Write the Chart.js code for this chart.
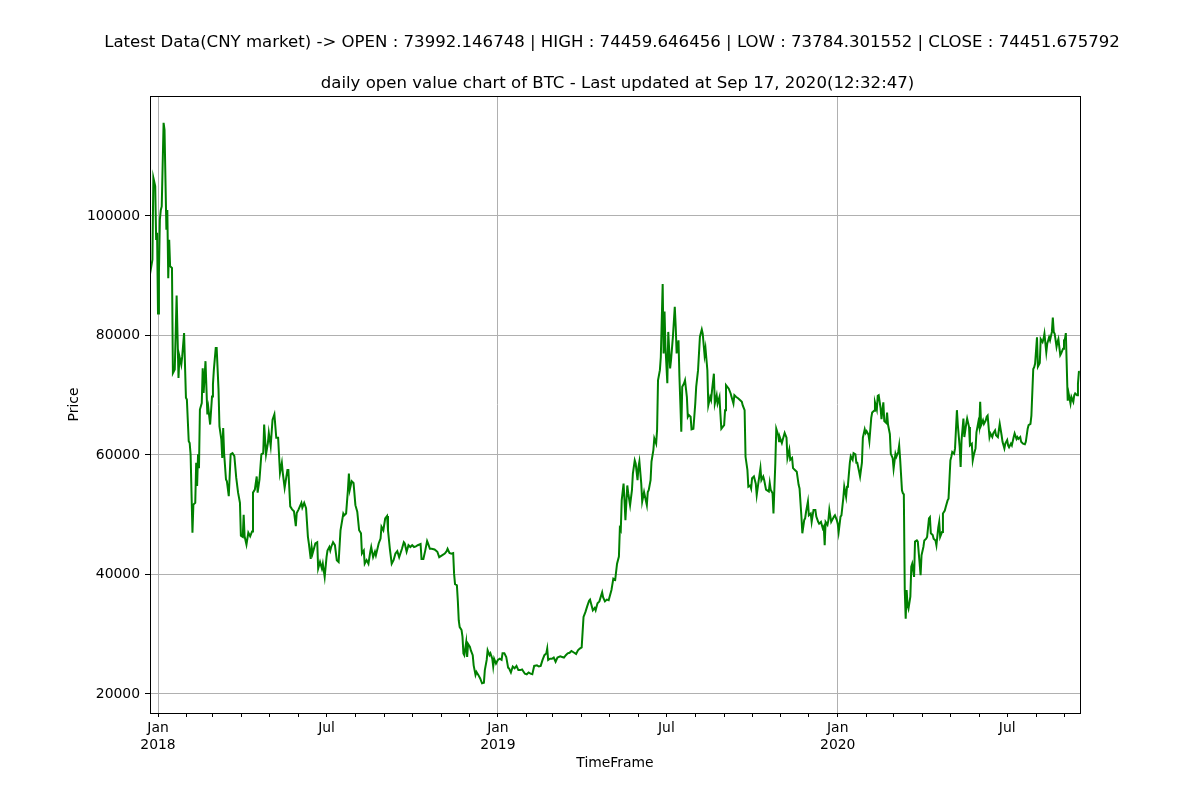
<!DOCTYPE html>
<html>
<head>
<meta charset="utf-8">
<title>daily open value chart of BTC</title>
<script src="https://cdn.jsdelivr.net/npm/chart.js@4.4.0/dist/chart.umd.min.js"></script>
<style>
  body { margin: 0; background: #fff; }
  canvas { display: block; }
</style>
</head>
<body>
<canvas id="btcChart" width="1200" height="800"></canvas>
<script>
// days counted from 1 Jan 2018
const openDays = [
  -9, -6, -5, -3, -2, -1, 0, 1, 2, 3,
  4, 6, 7, 9, 10, 11, 12, 13, 15, 16,
  18, 20, 22, 23, 25, 26, 28, 30, 31, 33,
  34, 35, 37, 38, 40, 41, 42, 43, 44, 45,
  47, 48, 49, 51, 53, 54, 56, 58, 59, 60,
  62, 63, 65, 66, 68, 69, 70, 71, 73, 74,
  76, 78, 80, 82, 84, 86, 88, 89, 91, 92,
  93, 95, 97, 99, 101, 102, 104, 106, 107, 109,
  111, 113, 114, 116, 118, 119, 121, 123, 125, 127,
  129, 131, 133, 134, 136, 139, 140, 142, 144, 146,
  148, 149, 151, 154, 155, 157, 159, 161, 162, 164,
  165, 166, 169, 171, 172, 174, 176, 177, 179, 181,
  182, 184, 185, 186, 188, 190, 192, 194, 196, 199,
  200, 202, 204, 205, 206, 208, 210, 212, 214, 216,
  218, 219, 221, 222, 224, 226, 228, 229, 231, 233,
  234, 237, 239, 240, 242, 244, 246, 247, 249, 251,
  253, 255, 257, 259, 262, 264, 265, 267, 269, 271,
  273, 275, 277, 279, 282, 283, 285, 287, 289, 290,
  292, 294, 297, 300, 302, 305, 308, 310, 311, 313,
  315, 317, 318, 319, 321, 322, 323, 324, 326, 327,
  328, 329, 331, 332, 333, 335, 336, 338, 339, 341,
  342, 344, 346, 348, 350, 351, 353, 354, 356, 357,
  359, 360, 361, 363, 365, 367, 369, 370, 372, 374,
  376, 377, 379, 381, 383, 385, 387, 389, 391, 394,
  396, 398, 400, 402, 404, 407, 409, 411, 413, 415,
  417, 418, 419, 421, 423, 425, 427, 429, 432, 434,
  436, 438, 440, 442, 444, 447, 449, 451, 453, 455,
  457, 459, 461, 463, 464, 466, 467, 469, 470, 472,
  474, 477, 478, 480, 482, 484, 487, 489, 491, 493,
  495, 496, 497, 498, 500, 501, 502, 504, 505, 507,
  509, 510, 512, 513, 515, 516, 517, 519, 520, 522,
  525, 526, 527, 529, 530, 532, 533, 535, 536, 537,
  539, 540, 542, 543, 544, 545, 547, 548, 550, 551,
  553, 555, 556, 557, 559, 560, 561, 562, 563, 565,
  566, 568, 569, 570, 572, 573, 575, 577, 578, 580,
  582, 584, 585, 587, 588, 590, 591, 593, 594, 595,
  597, 598, 600, 601, 603, 604, 605, 608, 609, 610,
  613, 615, 616, 618, 619, 621, 623, 625, 627, 628,
  630, 631, 633, 634, 636, 637, 638, 640, 642, 643,
  645, 647, 648, 650, 651, 653, 656, 657, 658, 660,
  661, 663, 664, 666, 667, 668, 670, 671, 673, 675,
  676, 678, 679, 681, 682, 684, 686, 688, 689, 691,
  692, 694, 695, 696, 698, 699, 701, 702, 704, 706,
  707, 709, 710, 712, 714, 715, 716, 717, 719, 720,
  721, 723, 724, 726, 727, 729, 730, 731, 733, 734,
  736, 737, 739, 740, 741, 743, 744, 746, 747, 749,
  750, 751, 753, 754, 756, 757, 759, 760, 761, 763,
  764, 766, 767, 769, 770, 772, 773, 774, 776, 777,
  779, 780, 782, 783, 784, 786, 787, 789, 790, 792,
  793, 795, 796, 797, 799, 800, 801, 802, 803, 804,
  805, 806, 808, 809, 810, 812, 813, 815, 816, 818,
  819, 820, 822, 823, 825, 826, 828, 829, 830, 832,
  833, 835, 836, 838, 839, 840, 842, 843, 845, 846,
  848, 849, 851, 852, 853, 855, 856, 858, 859, 861,
  862, 863, 865, 866, 868, 869, 871, 872, 874, 875,
  876, 878, 879, 881, 882, 883, 884, 886, 887, 889,
  890, 891, 893, 894, 896, 897, 899, 900, 902, 903,
  904, 906, 907, 909, 910, 912, 913, 914, 916, 917,
  919, 920, 922, 923, 924, 926, 927, 929, 931, 932,
  934, 935, 937, 938, 940, 941, 942, 944, 945, 947,
  948, 950, 951, 952, 954, 955, 957, 958, 960, 961,
  962, 963, 965, 966, 967, 969, 970, 972, 973, 974,
  975, 977, 978, 980, 981, 983, 984, 985, 987, 988,
  989, 990
];

const openPrices = [
  89900, 92700, 106400, 105000, 96000, 97200, 83700, 90500, 99400, 101000,
  101600, 115600, 114400, 97700, 101000, 89600, 96000, 91600, 91300, 73700,
  74300, 86700, 72900, 76500, 75100, 76500, 80400, 69600, 69300, 62300,
  62000, 60100, 47000, 51700, 52000, 58700, 54800, 60100, 57800, 67600,
  68700, 74500, 70400, 75700, 66800, 67900, 65100, 69800, 71800, 74300,
  77900, 77900, 70900, 64800, 62600, 59500, 64500, 60300, 55900, 55600,
  53100, 60100, 60300, 59800, 56200, 53700, 52000, 46500, 46300, 50000,
  46400, 45000, 47000, 46400, 47200, 53700, 54200, 56400, 53700, 55900,
  60100, 60300, 65100, 60100, 62000, 63700, 61500, 65900, 66800, 62900,
  62900, 57000, 58700, 57000, 54500, 57500, 57500, 51400, 50900, 50600,
  48100, 50300, 50900, 52000, 51200, 52000, 51100, 46300, 45200, 42600,
  44600, 43500, 45200, 45400, 41000, 42100, 41000, 41800, 39600, 42900,
  44000, 44600, 44000, 44600, 45400, 44900, 42400, 42100, 47400, 50200,
  49900, 50200, 54200, 56900, 54200, 55600, 55300, 51600, 50500, 47400,
  46900, 43500, 44000, 41800, 42400, 41800, 43800, 44600, 42900, 43800,
  43200, 45200, 46000, 48000, 47400, 49400, 49800, 47400, 44300, 41800,
  42400, 43500, 43900, 42900, 44300, 45400, 45200, 43800, 44900, 44600,
  44900, 44600, 44700, 44900, 45100, 42600, 42600, 44000, 45600, 45200,
  44300, 44300, 44200, 43800, 42900, 43200, 43500, 43900, 44300, 43600,
  43500, 43600, 40100, 38400, 38200, 35600, 32300, 31200, 30700, 29600,
  26800, 26500, 28700, 26200, 28400, 27900, 27300, 26500, 24800, 23200,
  23700, 23200, 22600, 21800, 21900, 24000, 25700, 27300, 26500, 26800,
  25900, 24600, 25900, 25100, 25700, 25900, 25700, 26800, 26800, 26200,
  24400, 24300, 23600, 24600, 24300, 24700, 24000, 24000, 24100, 23400,
  23300, 23600, 23400, 23300, 24700, 24800, 24600, 24700, 25700, 26500,
  26800, 27600, 25700, 25900, 25900, 26100, 25400, 26100, 26300, 26200,
  26100, 26500, 26800, 26900, 27200, 26900, 26700, 27300, 27600, 27800,
  32900, 33700, 34700, 35600, 35800, 34600, 34000, 34400, 34000, 35200,
  35500, 37000, 36200, 35500, 35800, 35700, 37400, 39300, 39100, 41800,
  43000, 47700, 47400, 52400, 55200, 52400, 49100, 54900, 53600, 51600,
  54100, 56900, 59100, 58600, 55800, 58000, 58900, 55200, 52200, 53800,
  51600, 53800, 54100, 55800, 58900, 60800, 62800, 61900, 64200, 72500,
  74200, 76400, 88600, 77000, 84000, 78100, 72000, 80600, 74500, 75900,
  79800, 84800, 81500, 77000, 79200, 73100, 68600, 63900, 71400, 72000,
  72500, 69700, 66400, 66700, 66400, 64300, 64400, 68600, 71400, 74200,
  79800, 81000, 80300, 76700, 77800, 74200, 68300, 69700, 69200, 70800,
  73600, 68600, 70000, 68600, 69700, 66900, 64400, 65000, 67500, 71700,
  71100, 70300, 69700, 68600, 70000, 69700, 69500, 69200, 68900, 68300,
  67500, 59700, 57500, 54700, 54900, 54400, 56100, 56400, 55200, 53300,
  55600, 57800, 55800, 56400, 55800, 54200, 53900, 55300, 54200, 53600,
  50200, 58700, 64400, 63400, 62300, 62900, 62000, 62600, 63700, 62900,
  59500, 60900, 59200, 59500, 57800, 57500, 57200, 55000, 54400, 49700,
  46900, 49100, 49400, 50500, 52200, 49900, 50200, 48800, 50800, 50800,
  49700, 48800, 48500, 48800, 47700, 48000, 44900, 48800, 48300, 49100,
  50800, 48800, 49100, 49700, 49900, 49100, 48500, 47100, 49700, 49900,
  52800, 54700, 53000, 54700, 55000, 58700, 59800, 59200, 60300, 60100,
  58700, 58700, 57200, 56400, 58700, 62900, 64300, 63700, 64000, 63400,
  62300, 66200, 67100, 67400, 68800, 67600, 69900, 70000, 67900, 66000,
  68800, 65700, 65400, 67100, 65100, 63500, 60200, 59500, 57700, 60200,
  59700, 60500, 61600, 59400, 54100, 53600, 53400, 37400, 32600, 37400,
  34900, 34300, 36300, 41300, 41800, 39600, 45500, 45700, 45500, 41800,
  39900, 43200, 44600, 45700, 46000, 46300, 49400, 49600, 46900, 46600,
  46000, 45700, 44900, 47900, 48800, 46300, 47100, 50200, 50700, 51300,
  52400, 52700, 59100, 59700, 60500, 60200, 61100, 67500, 65000, 61300,
  58000, 62500, 66100, 63000, 65200, 66100, 64700, 61600, 61900, 59100,
  59900, 61100, 63800, 65500, 64700, 68900, 65000, 65800, 65200, 65800,
  66400, 66600, 63000, 63600, 63000, 63600, 64100, 63300, 63000, 64100,
  65200, 63300, 62200, 61100, 61900, 62500, 61600, 61300, 61900, 61600,
  63000, 63600, 62700, 63000, 62700, 63000, 62200, 61900, 61800, 62200,
  64400, 65000, 65200, 66600, 74400, 74700, 75300, 79700, 74800, 75400,
  79400, 78900, 79400, 80300, 77200, 78600, 79700, 79200, 80600, 83000,
  80600, 80300, 78100, 78900, 79400, 76700, 77000, 77800, 79200, 79400,
  80400, 69100, 70300, 68600, 69700, 68900, 70000, 70300, 70000, 71900,
  73900, 73992
];

const monthTicks = [
  '2018-01', '2018-02', '2018-03', '2018-04', '2018-05', '2018-06',
  '2018-07', '2018-08', '2018-09', '2018-10', '2018-11', '2018-12',
  '2019-01', '2019-02', '2019-03', '2019-04', '2019-05', '2019-06',
  '2019-07', '2019-08', '2019-09', '2019-10', '2019-11', '2019-12',
  '2020-01', '2020-02', '2020-03', '2020-04', '2020-05', '2020-06',
  '2020-07', '2020-08', '2020-09'
];
const labelledMonths = { '01': 'Jan', '07': 'Jul' };
const priceTicks = [20000, 40000, 60000, 80000, 100000];

const headline = 'Latest Data(CNY market) -> OPEN : 73992.146748 | HIGH : 74459.646456 | LOW : 73784.301552 | CLOSE : 74451.675792';
const chartTitle = 'daily open value chart of BTC - Last updated at Sep 17, 2020(12:32:47)';

const DAY = 86400000;
const origin = Date.UTC(2018, 0, 1);

function monthToDay(m) {
    const [y, mo] = m.split('-').map(Number);
    return (Date.UTC(y, mo - 1, 1) - origin) / DAY;
}

const tickDays = monthTicks.map(monthToDay);

function tickLabel(day) {
    const i = tickDays.indexOf(day);
    if (i < 0) return '';
    const [y, mo] = monthTicks[i].split('-');
    if (mo === '01') return [labelledMonths[mo], y];
    return labelledMonths[mo] || '';
}

function isYearStart(day) {
    const i = tickDays.indexOf(day);
    return i >= 0 && monthTicks[i].endsWith('-01');
}

const FONT = 'DejaVu Sans';
const SMALL = 13.9;
Chart.defaults.font.family = FONT;
Chart.defaults.color = '#000';

const textPlugin = {
    id: 'textPlugin',
    afterDatasetsDraw(chart) {
        const { ctx, chartArea: a } = chart;
        ctx.save();
        ctx.strokeStyle = '#000';
        ctx.lineWidth = 1;
        ctx.strokeRect(Math.round(a.left) + 0.5, Math.round(a.top) + 0.5,
            Math.round(a.right - a.left), Math.round(a.bottom - a.top));
        ctx.fillStyle = '#000';
        ctx.textAlign = 'center';
        ctx.textBaseline = 'alphabetic';
        ctx.font = '16.57px "' + FONT + '"';
        ctx.fillText(headline, 612, 46.5);
        ctx.fillText(chartTitle, 617.5, 87.5);
        ctx.restore();
    }
};

const ctx = document.getElementById('btcChart').getContext('2d');
new Chart(ctx, {
    type: 'line',
    data: {
        datasets: [{
            label: 'Open',
            data: openDays.map((d, i) => ({ x: d, y: openPrices[i] })),
            borderColor: '#008000',
            borderWidth: 2,
            pointRadius: 0,
            tension: 0,
            fill: false
        }]
    },
    options: {
        responsive: false,
        animation: false,
        devicePixelRatio: 1,
        layout: { padding: { top: 96, right: 120, bottom: 0, left: 0 } },
        plugins: {
            legend: { display: false },
            tooltip: { enabled: false }
        },
        scales: {
            x: {
                type: 'linear',
                min: -8.6,
                max: 990.2,
                afterBuildTicks: (scale) => {
                    scale.ticks = tickDays.map(v => ({ value: v }));
                },
                afterFit: (scale) => { scale.height = 87; },
                border: { display: false },
                grid: {
                    color: (c) => (c.tick && isYearStart(c.tick.value)) ? '#b0b0b0' : 'rgba(0,0,0,0)',
                    tickColor: '#000',
                    tickLength: 4,
                    lineWidth: 1
                },
                ticks: {
                    autoSkip: false,
                    maxRotation: 0,
                    minRotation: 0,
                    padding: 3,
                    font: { size: SMALL },
                    callback: (value) => tickLabel(value)
                },
                title: {
                    display: true,
                    text: 'TimeFrame',
                    font: { size: SMALL },
                    padding: { top: 0, bottom: 28 }
                }
            },
            y: {
                min: 16820,
                max: 120080,
                afterBuildTicks: (scale) => {
                    scale.ticks = priceTicks.map(v => ({ value: v }));
                },
                afterFit: (scale) => { scale.width = 150; },
                border: { display: false },
                grid: {
                    color: '#b0b0b0',
                    tickColor: '#000',
                    tickLength: 5,
                    lineWidth: 1
                },
                ticks: {
                    padding: 5,
                    font: { size: SMALL },
                    callback: (value) => String(value)
                },
                title: {
                    display: true,
                    text: 'Price',
                    font: { size: SMALL },
                    padding: { top: 66, bottom: 0 }
                }
            }
        }
    },
    plugins: [textPlugin]
});
</script>
</body>
</html>
